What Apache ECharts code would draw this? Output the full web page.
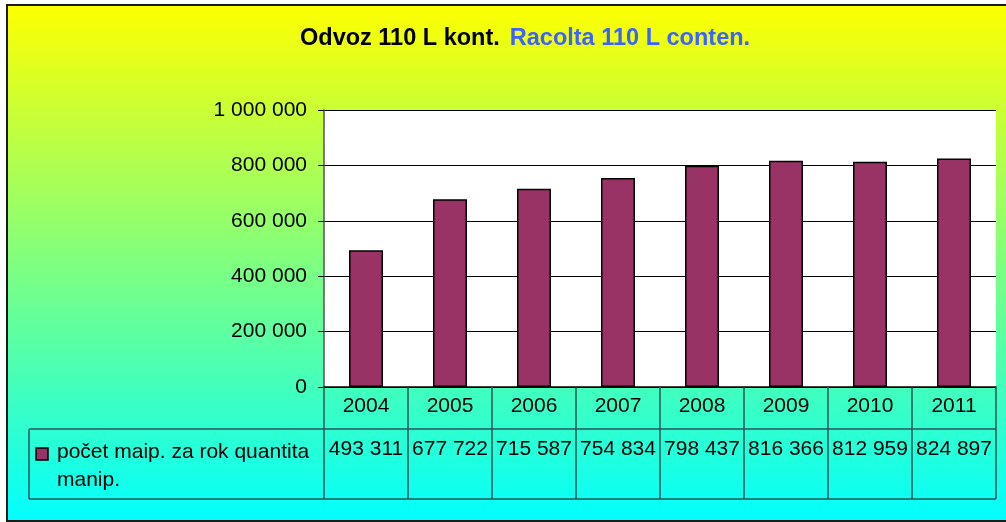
<!DOCTYPE html>
<html>
<head>
<meta charset="utf-8">
<script src="https://cdn.jsdelivr.net/npm/echarts@6/dist/echarts.min.js"></script>
<style>
  html, body { margin: 0; padding: 0; }
  #chart { width: 1006px; height: 522px; }
</style>
</head>
<body>
<div id="chart"></div>
<script>
const years = ['2004', '2005', '2006', '2007', '2008', '2009', '2010', '2011'];
const manipulations = [493311, 677722, 715587, 754834, 798437, 816366, 812959, 824897];
const seriesName = 'počet maip. za rok quantita\nmanip.';
const yTicks = [0, 200000, 400000, 600000, 800000, 1000000];

const font = 'Liberation Sans, Arial, sans-serif';
const lineColor = '#2a5555';

// 1 000 000 style
function spaced(v) {
    return String(v).replace(/\B(?=(\d{3})+(?!\d))/g, ' ');
}

const chart = echarts.init(document.getElementById('chart'));

chart.setOption({
    animation: false,
    title: {
        text: '{a|Odvoz 110 L kont.}  {b|Racolta 110 L conten.}',
        left: 295,
        top: 22,
        textStyle: {
            rich: {
                a: { fontFamily: font, fontSize: 23.5, fontWeight: 'bold', color: '#000' },
                b: { fontFamily: font, fontSize: 23.5, fontWeight: 'bold', color: '#3d63ff' }
            }
        }
    },
    graphic: [
        {
            type: 'rect', z: -10, silent: true,
            shape: { x: 7, y: 5, width: 1010, height: 516 },
            style: {
                fill: new echarts.graphic.LinearGradient(0, 0, 0, 1, [
                    { offset: 0, color: '#ffff00' },
                    { offset: 1, color: '#00ffff' }
                ]),
                stroke: '#1a1a1a', lineWidth: 2
            }
        },
        { type: 'line', shape: { x1: 29, y1: 429, x2: 996, y2: 429 }, style: { stroke: lineColor, lineWidth: 1.5 } },
        { type: 'line', shape: { x1: 29, y1: 499, x2: 996, y2: 499 }, style: { stroke: lineColor, lineWidth: 1.5 } },
        { type: 'line', shape: { x1: 29, y1: 429, x2: 29, y2: 499 }, style: { stroke: lineColor, lineWidth: 1.5 } },
        {
            type: 'rect',
            shape: { x: 36, y: 448, width: 12, height: 12 },
            style: { fill: '#993366', stroke: '#000', lineWidth: 1.5 }
        },
        {
            type: 'text', left: 57, top: 438,
            style: { text: seriesName, fontFamily: font, fontSize: 21, lineHeight: 28, fill: '#000' }
        }
    ],
    grid: {
        left: 324, right: 10, top: 110, bottom: 135,
        show: true, backgroundColor: '#ffffff', borderWidth: 0
    },
    xAxis: [
        {
            type: 'category',
            data: years,
            axisLine: { lineStyle: { color: '#000', width: 1.5 } },
            axisTick: { show: true, length: 112, lineStyle: { color: lineColor, width: 1.5 } },
            axisLabel: {
                interval: 0,
                fontFamily: font, fontSize: 21, color: '#000',
                margin: 9, lineHeight: 21
            }
        },
        {
            type: 'category',
            data: manipulations.map(spaced),
            position: 'bottom',
            offset: 42,
            axisLine: { show: false },
            axisTick: { show: false },
            axisLabel: {
                interval: 0,
                hideOverlap: false,
                fontFamily: font, fontSize: 21, color: '#000',
                margin: 10, lineHeight: 21
            }
        }
    ],
    yAxis: {
        type: 'value',
        min: yTicks[0],
        max: yTicks[yTicks.length - 1],
        interval: yTicks[1] - yTicks[0],
        axisLine: { show: true, lineStyle: { color: '#555', width: 1.5 } },
        axisTick: { show: true, length: 6, lineStyle: { color: '#000' } },
        splitLine: { lineStyle: { color: '#000', width: 1 } },
        axisLabel: {
            fontFamily: font, fontSize: 21, color: '#000', margin: 17,
            formatter: v => spaced(v)
        }
    },
    series: [
        {
            name: seriesName,
            type: 'bar',
            data: manipulations,
            barWidth: 34,
            itemStyle: { color: '#993366', borderColor: '#000', borderWidth: 1.5 }
        }
    ]
});

window.addEventListener('resize', () => chart.resize());
</script>
</body>
</html>
